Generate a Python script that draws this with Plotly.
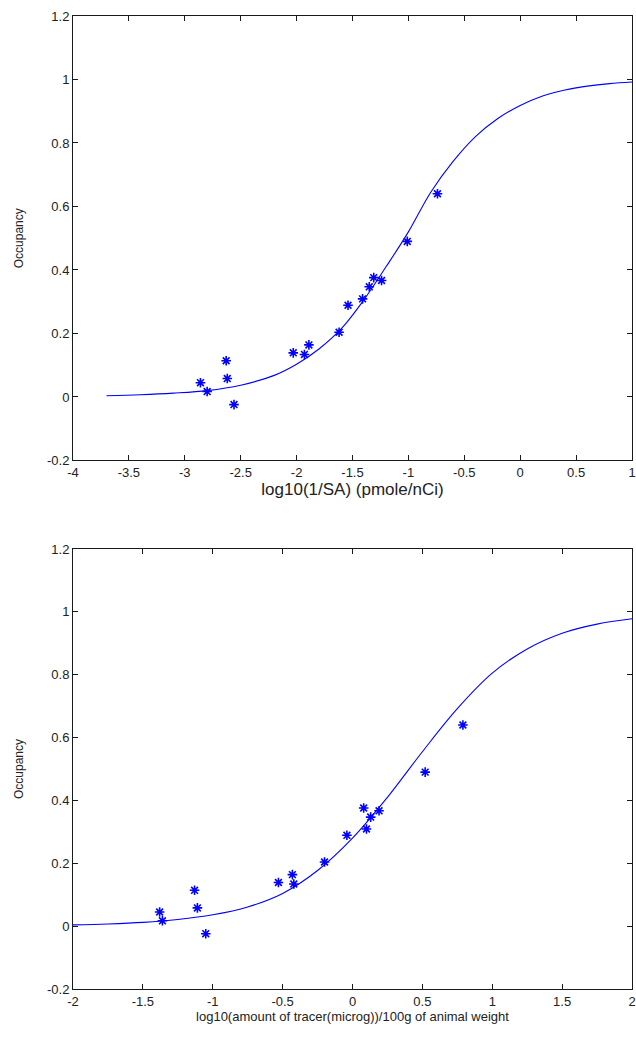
import plotly.graph_objects as go
from plotly.subplots import make_subplots

# measured occupancy (same for both panels)
occupancy = [0.045, 0.017, 0.114, 0.058, -0.024, 0.139, 0.134, 0.164,
             0.204, 0.289, 0.309, 0.347, 0.376, 0.367, 0.490, 0.640]

# top panel: log10(1/SA)
log_inv_sa = [-2.86, -2.80, -2.63, -2.62, -2.56, -2.03, -1.93, -1.89,
              -1.62, -1.54, -1.41, -1.35, -1.31, -1.24, -1.01, -0.74]

# bottom panel: log10(amount of tracer / 100 g)
log_amount = [-1.38, -1.36, -1.13, -1.11, -1.05, -0.53, -0.42, -0.43,
              -0.20, -0.04, 0.10, 0.13, 0.08, 0.19, 0.52, 0.79]

# fitted curves
fit1_x = [-3.70, -3.40, -3.10, -2.80, -2.50, -2.20, -2.00, -1.80, -1.60, -1.40, -1.20,
          -1.00, -0.80, -0.60, -0.40, -0.20, 0.00, 0.20, 0.40, 0.60, 0.80, 1.00]
fit1_y = [0.004, 0.007, 0.012, 0.020, 0.037, 0.068, 0.103, 0.151, 0.215, 0.305, 0.410,
          0.520, 0.645, 0.742, 0.820, 0.877, 0.918, 0.948, 0.967, 0.979, 0.987, 0.992]

fit2_x = [-2.00, -1.75, -1.50, -1.25, -1.00, -0.75, -0.50, -0.25, 0.00,
          0.25, 0.50, 0.75, 1.00, 1.25, 1.50, 1.75, 2.00]
fit2_y = [0.004, 0.007, 0.012, 0.021, 0.036, 0.061, 0.104, 0.177, 0.280,
          0.410, 0.555, 0.692, 0.805, 0.882, 0.932, 0.961, 0.978]

xticks1 = [-4, -3.5, -3, -2.5, -2, -1.5, -1, -0.5, 0, 0.5, 1]
xtext1 = ["-4", "-3.5", "-3", "-2.5", "-2", "-1.5", "-1", "-0.5", "0", "0.5", "1"]
xticks2 = [-2, -1.5, -1, -0.5, 0, 0.5, 1, 1.5, 2]
xtext2 = ["-2", "-1.5", "-1", "-0.5", "0", "0.5", "1", "1.5", "2"]
yticks = [-0.2, 0, 0.2, 0.4, 0.6, 0.8, 1, 1.2]
ytext = ["-0.2", "0", "0.2", "0.4", "0.6", "0.8", "1", "1.2"]

blue = "#0000ff"
fnt = "Liberation Sans, Arial, sans-serif"

fig = make_subplots(rows=2, cols=1)

fig.add_trace(go.Scatter(x=log_inv_sa, y=occupancy, mode="markers",
                         marker=dict(symbol="asterisk-open", size=8, color=blue,
                                     line=dict(color=blue, width=1.6))), row=1, col=1)
fig.add_trace(go.Scatter(x=fit1_x, y=fit1_y, mode="lines", line_shape="spline",
                         line=dict(color=blue, width=1.1)), row=1, col=1)
fig.add_trace(go.Scatter(x=log_amount, y=occupancy, mode="markers",
                         marker=dict(symbol="asterisk-open", size=8, color=blue,
                                     line=dict(color=blue, width=1.6))), row=2, col=1)
fig.add_trace(go.Scatter(x=fit2_x, y=fit2_y, mode="lines", line_shape="spline",
                         line=dict(color=blue, width=1.1)), row=2, col=1)

axis_style = dict(showline=True, linecolor="#1a1a1a", linewidth=1, mirror="ticks",
                  ticks="inside", ticklen=5, tickcolor="#1a1a1a", showgrid=False,
                  zeroline=False, automargin=False,
                  tickfont=dict(family=fnt, size=13, color="#222"))

fig.update_xaxes(**axis_style)
fig.update_yaxes(**axis_style)

fig.update_xaxes(range=[-4, 1], tickvals=xticks1, ticktext=xtext1, domain=[0, 1],
                 title=dict(text="log10(1/SA) (pmole/nCi)", standoff=2,
                            font=dict(family=fnt, size=17, color="#222")), row=1, col=1)
fig.update_xaxes(range=[-2, 2], tickvals=xticks2, ticktext=xtext2, domain=[0, 1],
                 title=dict(text="log10(amount of tracer(microg))/100g of animal weight", standoff=4,
                            font=dict(family=fnt, size=13, color="#222")), row=2, col=1)
fig.update_yaxes(range=[-0.2, 1.2], tickvals=yticks, ticktext=ytext, domain=[0.5432, 1],
                 title=dict(text="Occupancy", standoff=20,
                            font=dict(family=fnt, size=12, color="#222")), row=1, col=1)
fig.update_yaxes(range=[-0.2, 1.2], tickvals=yticks, ticktext=ytext, domain=[0, 0.4522],
                 title=dict(text="Occupancy", standoff=20,
                            font=dict(family=fnt, size=12, color="#222")), row=2, col=1)

fig.update_layout(width=636, height=1040, showlegend=False,
                  margin=dict(l=73, r=4, t=16, b=51),
                  paper_bgcolor="white", plot_bgcolor="white")

# page body has a default 8px margin; drop it so the figure fills the window
fig.write_html("out.html", config={"displayModeBar": False},
               post_script="document.body.style.margin='0';document.body.style.overflow='hidden';")
